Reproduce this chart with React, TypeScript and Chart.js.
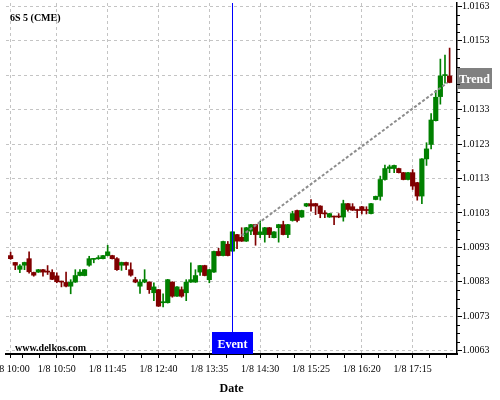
import React, { useEffect, useRef } from 'react';
import { Chart, registerables } from 'chart.js';

Chart.register(...registerables);

// ---- data ----
const opens = [
  1.00906, 1.00886, 1.00866, 1.00878, 1.00897, 1.00857, 1.00858, 1.00865, 1.00861, 1.00857,
  1.00847, 1.00831, 1.00828, 1.00817, 1.00829, 1.00848, 1.00848, 1.00878, 1.00895, 1.00897,
  1.00897, 1.00906, 1.00906, 1.00897, 1.00878, 1.00886, 1.00865, 1.00836, 1.00817, 1.00829,
  1.00829, 1.00798, 1.00807, 1.00769, 1.00769, 1.00829, 1.00788, 1.00807, 1.00798, 1.00829,
  1.00829, 1.00858, 1.00877, 1.00836, 1.00858, 1.00918, 1.00906, 1.00939, 1.00919, 1.00967,
  1.00959, 1.00948, 1.00977, 1.00996, 1.00967, 1.00967, 1.00987, 1.00958, 1.00987, 1.00996,
  1.00967, 1.01008, 1.01037, 1.01018, 1.01050, 1.01057, 1.01057, 1.01050, 1.01030, 1.01018,
  1.01020, 1.01020, 1.01018, 1.01057, 1.01048, 1.01040, 1.01048, 1.01040, 1.01028, 1.01069,
  1.01078, 1.01127, 1.01159, 1.01159, 1.01159, 1.01147, 1.01127, 1.01147, 1.01118, 1.01079,
  1.01187, 1.01229, 1.01298, 1.01368, 1.01429, 1.01428,
];
const highs = [
  1.00916, 1.00886, 1.00880, 1.00887, 1.00917, 1.00858, 1.00866, 1.00866, 1.00877, 1.00865,
  1.00856, 1.00832, 1.00858, 1.00836, 1.00865, 1.00865, 1.00866, 1.00904, 1.00898, 1.00906,
  1.00907, 1.00936, 1.00907, 1.00900, 1.00887, 1.00887, 1.00885, 1.00843, 1.00836, 1.00865,
  1.00830, 1.00827, 1.00808, 1.00795, 1.00837, 1.00830, 1.00816, 1.00815, 1.00836, 1.00885,
  1.00865, 1.00878, 1.00878, 1.00866, 1.00919, 1.00927, 1.00948, 1.00947, 1.00976, 1.00968,
  1.00987, 1.00988, 1.00997, 1.00997, 1.01006, 1.00988, 1.00988, 1.00976, 1.00997, 1.01006,
  1.00997, 1.01035, 1.01038, 1.01038, 1.01058, 1.01069, 1.01058, 1.01051, 1.01037, 1.01029,
  1.01021, 1.01028, 1.01067, 1.01058, 1.01057, 1.01041, 1.01049, 1.01048, 1.01058, 1.01079,
  1.01137, 1.01169, 1.01169, 1.01169, 1.01160, 1.01148, 1.01148, 1.01156, 1.01119, 1.01188,
  1.01234, 1.01319, 1.01386, 1.01477, 1.01489, 1.01509,
];
const lows = [
  1.00895, 1.00865, 1.00856, 1.00865, 1.00855, 1.00846, 1.00857, 1.00846, 1.00851, 1.00836,
  1.00827, 1.00815, 1.00815, 1.00795, 1.00828, 1.00847, 1.00847, 1.00875, 1.00885, 1.00895,
  1.00896, 1.00905, 1.00896, 1.00863, 1.00863, 1.00865, 1.00846, 1.00827, 1.00796, 1.00827,
  1.00796, 1.00775, 1.00758, 1.00757, 1.00768, 1.00785, 1.00787, 1.00785, 1.00775, 1.00828,
  1.00828, 1.00848, 1.00847, 1.00827, 1.00857, 1.00905, 1.00905, 1.00905, 1.00918, 1.00926,
  1.00947, 1.00947, 1.00967, 1.00936, 1.00958, 1.00945, 1.00958, 1.00957, 1.00945, 1.00966,
  1.00958, 1.01006, 1.01004, 1.01017, 1.01048, 1.01035, 1.01025, 1.01016, 1.01016, 1.01017,
  1.00996, 1.01016, 1.01006, 1.01035, 1.01037, 1.01016, 1.01027, 1.01027, 1.01027, 1.01068,
  1.01067, 1.01125, 1.01147, 1.01147, 1.01146, 1.01126, 1.01126, 1.01098, 1.01067, 1.01057,
  1.01168, 1.01216, 1.01297, 1.01346, 1.01407, 1.01408,
];
const closes = [
  1.00897, 1.00878, 1.00876, 1.00886, 1.00859, 1.00849, 1.00865, 1.00858, 1.00858, 1.00837,
  1.00830, 1.00829, 1.00817, 1.00829, 1.00848, 1.00858, 1.00865, 1.00897, 1.00897, 1.00900,
  1.00906, 1.00917, 1.00897, 1.00865, 1.00886, 1.00878, 1.00849, 1.00829, 1.00829, 1.00836,
  1.00807, 1.00815, 1.00759, 1.00772, 1.00836, 1.00788, 1.00815, 1.00788, 1.00829, 1.00836,
  1.00848, 1.00877, 1.00848, 1.00865, 1.00918, 1.00906, 1.00947, 1.00906, 1.00975, 1.00948,
  1.00948, 1.00987, 1.00996, 1.00967, 1.00975, 1.00987, 1.00967, 1.00975, 1.00996, 1.00967,
  1.00996, 1.01028, 1.01008, 1.01037, 1.01057, 1.01050, 1.01050, 1.01028, 1.01027, 1.01028,
  1.01018, 1.01018, 1.01057, 1.01040, 1.01038, 1.01037, 1.01037, 1.01037, 1.01057, 1.01078,
  1.01127, 1.01159, 1.01164, 1.01168, 1.01147, 1.01127, 1.01147, 1.01108, 1.01079, 1.01187,
  1.01216, 1.01300, 1.01366, 1.01428, 1.01432, 1.01409,
];

const xTickIndices = [0, 10, 21, 32, 43, 54, 65, 76, 87];
const xTickLabels = ['1/8 10:00', '1/8 10:50', '1/8 11:45', '1/8 12:40', '1/8 13:35', '1/8 14:30', '1/8 15:25', '1/8 16:20', '1/8 17:15'];
const yTickValues = [1.0063, 1.0073, 1.0083, 1.0093, 1.0103, 1.0113, 1.0123, 1.0133, 1.0143, 1.0153, 1.0163];

const trendStart = { x: 50, y: 1.00964 };
const trendEnd = { x: 94.5, y: 1.01408 };
const trendLabelValue = 1.0142;
const eventIndex = 48;

const TITLE = '6S 5 (CME)';
const WATERMARK = 'www.delkos.com';

const X_MIN = -1;
const X_MAX = 96.6;
const Y_MIN = 1.0062;
const Y_MAX = 1.0164;

const GREEN = '#008000';
const RED = '#800000';
const GRID = '#c4c4c4';
const SERIF = "'Liberation Serif', 'Times New Roman', serif";

const App: React.FC = () => {
  const ref = useRef<HTMLCanvasElement | null>(null);

  useEffect(() => {
    if (!ref.current) return;
    const up = opens.map((o, i) => closes[i] >= o);
    const colors = up.map((u) => (u ? GREEN : RED));

    const yMinor: number[] = [];
    for (let k = 0; k < yTickValues.length - 1; k++) {
      const a = yTickValues[k];
      const step = (yTickValues[k + 1] - a) / 4;
      for (let j = 1; j < 4; j++) yMinor.push(a + j * step);
    }
    const xStep = (xTickIndices[2] - xTickIndices[1]) / 3;
    const xMinor: number[] = [];
    for (let v = xTickIndices[1] - xStep; v > X_MIN + 0.2; v -= xStep) if (Math.abs(v) > 0.5) xMinor.push(v);
    for (let v = xTickIndices[1] + xStep; v < X_MAX; v += xStep) {
      if (!xTickIndices.some((m) => Math.abs(m - v) < 0.3)) xMinor.push(v);
    }

    const isMajorY = (v: number) => yTickValues.some((m) => Math.abs(m - v) < 1e-7);
    const isMajorX = (v: number) => xTickIndices.some((m) => Math.abs(m - v) < 1e-6);

    const overlay = {
      id: 'overlay',
      afterDraw(chart: any) {
        const { ctx, chartArea, scales } = chart;
        const y = scales.y;
        // short minor ticks on the price axis
        ctx.save();
        ctx.strokeStyle = '#000';
        ctx.lineWidth = 1;
        yMinor.forEach((v) => {
          const py = Math.round(y.getPixelForValue(v)) + 0.5;
          ctx.beginPath();
          ctx.moveTo(chartArea.right, py);
          ctx.lineTo(chartArea.right + 3, py);
          ctx.stroke();
        });
        ctx.restore();
      },
      afterDatasetsDraw(chart: any) {
        const { ctx, chartArea, scales } = chart;
        const x = scales.x;
        const y = scales.y;
        ctx.save();
        // Event line + box
        const ex = Math.round(x.getPixelForValue(eventIndex)) + 0.5;
        const boxH = 22;
        ctx.strokeStyle = '#0000ff';
        ctx.lineWidth = 1;
        ctx.beginPath();
        ctx.moveTo(ex, chartArea.top);
        ctx.lineTo(ex, chartArea.bottom - boxH);
        ctx.stroke();
        ctx.fillStyle = '#0000ff';
        ctx.fillRect(Math.round(ex - 21), chartArea.bottom - boxH, 41, boxH);
        ctx.fillStyle = '#ffffff';
        ctx.font = `bold 12px ${SERIF}`;
        ctx.textAlign = 'center';
        ctx.textBaseline = 'middle';
        ctx.fillText('Event', ex, chartArea.bottom - boxH / 2 + 2);

        // Trend label box
        const ty = y.getPixelForValue(trendLabelValue);
        ctx.fillStyle = '#808080';
        ctx.fillRect(chartArea.right, Math.round(ty - 10.5), 35, 21);
        ctx.fillStyle = '#ffffff';
        ctx.fillText('Trend', chartArea.right + 17.5, ty + 1);

        // Texts
        ctx.fillStyle = '#000000';
        ctx.font = `bold 10px ${SERIF}`;
        ctx.textAlign = 'left';
        ctx.fillText(TITLE, 10, 18);
        ctx.fillText(WATERMARK, 15, 348);
        ctx.restore();
      },
    };

    const chart = new Chart(ref.current, {
      type: 'bar',
      data: {
        datasets: [
          {
            type: 'line',
            data: [trendStart, trendEnd],
            borderColor: '#8c8c8c',
            borderWidth: 2,
            borderDash: [3, 2],
            pointRadius: 0,
            order: 0,
          } as any,
          {
            data: opens.map((o, i) => ({ x: i, y: [o, closes[i]] })),
            backgroundColor: colors,
            borderWidth: 0,
            barThickness: 4.5,
            minBarLength: 1,
            grouped: false,
            order: 1,
          } as any,
          {
            data: lows.map((l, i) => ({ x: i, y: [l, highs[i]] })),
            backgroundColor: colors,
            borderWidth: 0,
            barThickness: 1,
            grouped: false,
            order: 2,
          } as any,
        ],
      },
      options: {
        responsive: false,
        animation: false,
        layout: { padding: { top: 3, left: 6, right: 0, bottom: 0 } },
        plugins: { legend: { display: false }, tooltip: { enabled: false } },
        font: { family: SERIF, size: 10 } as any,
        scales: {
          x: {
            type: 'linear',
            min: X_MIN,
            max: X_MAX,
            offset: false,
            afterBuildTicks: (scale: any) => {
              const vals = [...xTickIndices, ...xMinor].sort((a, b) => a - b);
              scale.ticks = vals.map((v) => ({ value: v }));
            },
            afterFit: (scale: any) => {
              scale.height = 46;
              scale.paddingLeft = 0;
              scale.paddingRight = 0;
            },
            ticks: {
              autoSkip: false,
              maxRotation: 0,
              minRotation: 0,
              padding: 5,
              color: '#000',
              font: { family: SERIF, size: 10 },
              callback: (v: any) => {
                const k = xTickIndices.findIndex((m) => Math.abs(m - Number(v)) < 1e-6);
                return k >= 0 ? xTickLabels[k] : '';
              },
            },
            grid: {
              offset: false,
              color: (c: any) => (c.tick && isMajorX(c.tick.value) ? GRID : 'rgba(0,0,0,0)'),
              tickColor: '#000',
              tickLength: 4,
              lineWidth: 1,
            },
            border: { display: true, color: '#000', width: 2, dash: [3, 3] },
            title: {
              display: true,
              text: 'Date',
              color: '#000',
              font: { family: SERIF, size: 12, weight: 'bold' },
              padding: { top: 0, bottom: 4 },
            },
          },
          y: {
            type: 'linear',
            position: 'right',
            min: Y_MIN,
            max: Y_MAX,
            afterBuildTicks: (scale: any) => {
              scale.ticks = yTickValues.map((v) => ({ value: v }));
            },
            afterFit: (scale: any) => {
              scale.width = 43;
              scale.paddingTop = 0;
              scale.paddingBottom = 0;
            },
            ticks: {
              autoSkip: false,
              padding: 0,
              color: '#000',
              font: { family: SERIF, size: 10 },
              callback: (v: any) => Number(v).toFixed(4),
            },
            grid: {
              color: GRID,
              tickColor: '#000',
              tickLength: 5,
              lineWidth: 1,
            },
            border: { display: true, color: '#000', width: 1.5, dash: [3, 3] },
          },
        },
      } as any,
      plugins: [overlay],
    });

    return () => chart.destroy();
  }, []);

  return (
    <div style={{ position: 'absolute', left: 0, top: 0, width: 500, height: 400, background: '#fff' }}>
      <canvas ref={ref} width={500} height={400} />
    </div>
  );
};

export default App;
